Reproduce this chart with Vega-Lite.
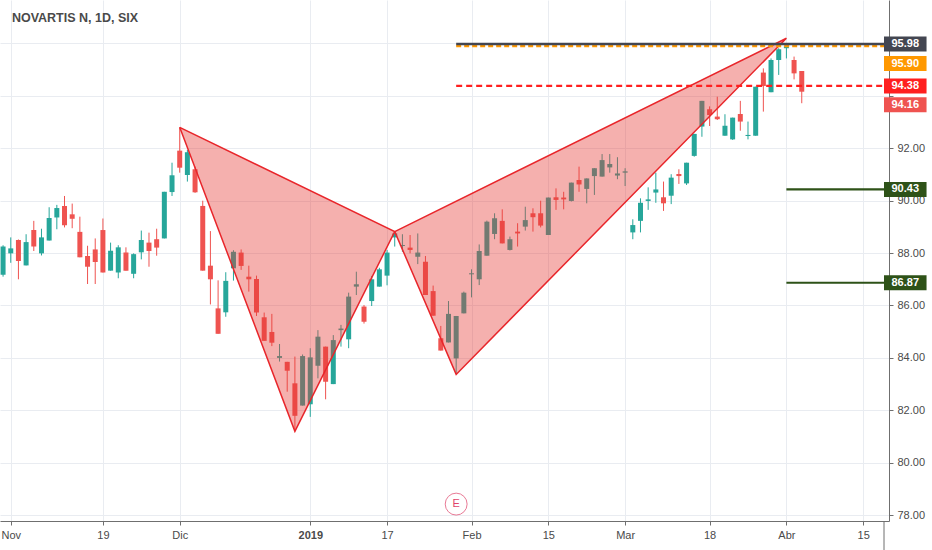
{
  "$schema": "https://vega.github.io/schema/vega-lite/v6.json",
  "width": 889,
  "height": 521,
  "autosize": "none",
  "padding": {"left": 0, "top": 0, "right": 43, "bottom": 29},
  "background": "#ffffff",
  "config": {
    "view": {"stroke": null},
    "font": "Liberation Sans"
  },
  "datasets": {
    "candles": [
      {"date": "2018-10-31", "t": -1, "open": 87.17, "high": 88.30, "low": 87.10, "close": 88.25},
      {"date": "2018-11-01", "t": 0, "open": 87.99, "high": 88.60, "low": 87.63, "close": 88.18},
      {"date": "2018-11-02", "t": 1, "open": 88.50, "high": 88.52, "low": 87.00, "close": 87.70},
      {"date": "2018-11-05", "t": 2, "open": 87.53, "high": 88.72, "low": 87.53, "close": 88.42},
      {"date": "2018-11-06", "t": 3, "open": 88.88, "high": 89.23, "low": 88.08, "close": 88.25},
      {"date": "2018-11-07", "t": 4, "open": 87.99, "high": 88.93, "low": 87.91, "close": 88.60},
      {"date": "2018-11-08", "t": 5, "open": 88.48, "high": 89.75, "low": 88.48, "close": 89.34},
      {"date": "2018-11-09", "t": 6, "open": 89.36, "high": 89.84, "low": 88.91, "close": 89.72},
      {"date": "2018-11-12", "t": 7, "open": 89.80, "high": 90.18, "low": 88.98, "close": 89.06},
      {"date": "2018-11-13", "t": 8, "open": 89.48, "high": 89.89, "low": 88.95, "close": 89.31},
      {"date": "2018-11-14", "t": 9, "open": 88.81, "high": 89.39, "low": 87.84, "close": 87.84},
      {"date": "2018-11-15", "t": 10, "open": 87.89, "high": 88.28, "low": 86.82, "close": 87.48},
      {"date": "2018-11-16", "t": 11, "open": 88.14, "high": 88.56, "low": 86.82, "close": 87.66},
      {"date": "2018-11-19", "t": 12, "open": 88.88, "high": 89.32, "low": 87.26, "close": 87.26},
      {"date": "2018-11-20", "t": 13, "open": 87.33, "high": 88.40, "low": 87.33, "close": 88.09},
      {"date": "2018-11-21", "t": 14, "open": 87.26, "high": 88.30, "low": 87.04, "close": 88.22},
      {"date": "2018-11-22", "t": 15, "open": 88.02, "high": 88.22, "low": 87.33, "close": 87.33},
      {"date": "2018-11-23", "t": 16, "open": 87.21, "high": 87.99, "low": 87.04, "close": 87.96},
      {"date": "2018-11-26", "t": 17, "open": 88.03, "high": 88.86, "low": 87.76, "close": 88.50},
      {"date": "2018-11-27", "t": 18, "open": 88.40, "high": 88.78, "low": 87.48, "close": 88.08},
      {"date": "2018-11-28", "t": 19, "open": 88.53, "high": 88.93, "low": 87.90, "close": 88.21},
      {"date": "2018-11-29", "t": 20, "open": 88.56, "high": 90.34, "low": 88.56, "close": 90.34},
      {"date": "2018-11-30", "t": 21, "open": 90.33, "high": 91.45, "low": 90.18, "close": 90.97},
      {"date": "2018-12-03", "t": 22, "open": 91.91, "high": 92.80, "low": 91.07, "close": 91.26},
      {"date": "2018-12-04", "t": 23, "open": 90.98, "high": 91.94, "low": 90.73, "close": 91.85},
      {"date": "2018-12-05", "t": 24, "open": 91.20, "high": 91.30, "low": 90.30, "close": 90.32},
      {"date": "2018-12-06", "t": 25, "open": 89.80, "high": 90.00, "low": 87.33, "close": 87.33},
      {"date": "2018-12-07", "t": 26, "open": 87.52, "high": 88.84, "low": 86.04, "close": 87.00},
      {"date": "2018-12-10", "t": 27, "open": 85.89, "high": 86.96, "low": 84.92, "close": 84.92},
      {"date": "2018-12-11", "t": 28, "open": 85.74, "high": 87.27, "low": 85.57, "close": 86.94},
      {"date": "2018-12-12", "t": 29, "open": 87.42, "high": 88.11, "low": 86.95, "close": 88.05},
      {"date": "2018-12-13", "t": 30, "open": 88.02, "high": 88.14, "low": 87.36, "close": 87.51},
      {"date": "2018-12-14", "t": 31, "open": 87.10, "high": 87.52, "low": 86.53, "close": 87.00},
      {"date": "2018-12-17", "t": 32, "open": 87.01, "high": 87.14, "low": 85.60, "close": 85.73},
      {"date": "2018-12-18", "t": 33, "open": 85.55, "high": 85.73, "low": 84.65, "close": 84.65},
      {"date": "2018-12-19", "t": 34, "open": 84.99, "high": 85.68, "low": 84.45, "close": 84.58},
      {"date": "2018-12-20", "t": 35, "open": 84.00, "high": 84.53, "low": 83.86, "close": 84.07},
      {"date": "2018-12-21", "t": 36, "open": 83.85, "high": 83.85, "low": 82.71, "close": 83.51},
      {"date": "2018-12-27", "t": 37, "open": 83.03, "high": 84.05, "low": 81.20, "close": 81.79},
      {"date": "2018-12-28", "t": 38, "open": 82.18, "high": 84.13, "low": 82.18, "close": 84.07},
      {"date": "2019-01-03", "t": 39, "open": 82.23, "high": 84.37, "low": 81.75, "close": 84.02},
      {"date": "2019-01-04", "t": 40, "open": 83.70, "high": 85.06, "low": 83.22, "close": 84.81},
      {"date": "2019-01-07", "t": 41, "open": 84.43, "high": 84.43, "low": 82.42, "close": 83.09},
      {"date": "2019-01-08", "t": 42, "open": 83.00, "high": 84.87, "low": 83.00, "close": 84.68},
      {"date": "2019-01-09", "t": 43, "open": 85.06, "high": 85.26, "low": 84.43, "close": 85.12},
      {"date": "2019-01-10", "t": 44, "open": 84.71, "high": 86.49, "low": 84.37, "close": 86.34},
      {"date": "2019-01-11", "t": 45, "open": 86.72, "high": 87.29, "low": 86.40, "close": 86.81},
      {"date": "2019-01-14", "t": 46, "open": 85.96, "high": 86.02, "low": 85.31, "close": 85.38},
      {"date": "2019-01-15", "t": 47, "open": 86.17, "high": 87.13, "low": 85.98, "close": 87.00},
      {"date": "2019-01-16", "t": 48, "open": 86.72, "high": 87.44, "low": 86.72, "close": 87.38},
      {"date": "2019-01-17", "t": 49, "open": 87.14, "high": 88.12, "low": 86.77, "close": 88.02},
      {"date": "2019-01-18", "t": 50, "open": 88.60, "high": 88.82, "low": 88.25, "close": 88.75},
      {"date": "2019-01-21", "t": 51, "open": 88.27, "high": 88.72, "low": 88.05, "close": 88.31},
      {"date": "2019-01-22", "t": 52, "open": 88.21, "high": 88.69, "low": 87.99, "close": 88.12},
      {"date": "2019-01-23", "t": 53, "open": 87.86, "high": 88.75, "low": 87.58, "close": 88.02},
      {"date": "2019-01-24", "t": 54, "open": 87.67, "high": 87.89, "low": 86.40, "close": 86.40},
      {"date": "2019-01-25", "t": 55, "open": 86.55, "high": 86.76, "low": 85.61, "close": 85.61},
      {"date": "2019-01-28", "t": 56, "open": 84.75, "high": 85.22, "low": 84.28, "close": 84.28},
      {"date": "2019-01-29", "t": 57, "open": 84.59, "high": 86.17, "low": 84.59, "close": 85.68},
      {"date": "2019-01-30", "t": 58, "open": 83.98, "high": 85.60, "low": 83.41, "close": 85.60},
      {"date": "2019-01-31", "t": 59, "open": 85.70, "high": 86.53, "low": 85.70, "close": 86.49},
      {"date": "2019-02-01", "t": 60, "open": 87.19, "high": 87.38, "low": 86.31, "close": 87.23},
      {"date": "2019-02-04", "t": 61, "open": 87.00, "high": 88.33, "low": 86.78, "close": 88.08},
      {"date": "2019-02-05", "t": 62, "open": 87.90, "high": 89.24, "low": 87.90, "close": 89.20},
      {"date": "2019-02-06", "t": 63, "open": 88.73, "high": 89.52, "low": 88.53, "close": 89.33},
      {"date": "2019-02-07", "t": 64, "open": 89.23, "high": 89.67, "low": 88.37, "close": 88.37},
      {"date": "2019-02-08", "t": 65, "open": 88.12, "high": 88.63, "low": 88.10, "close": 88.53},
      {"date": "2019-02-11", "t": 66, "open": 88.82, "high": 89.14, "low": 88.25, "close": 88.75},
      {"date": "2019-02-12", "t": 67, "open": 89.01, "high": 89.77, "low": 88.86, "close": 89.26},
      {"date": "2019-02-13", "t": 68, "open": 89.52, "high": 89.71, "low": 88.82, "close": 89.37},
      {"date": "2019-02-14", "t": 69, "open": 89.52, "high": 90.00, "low": 88.98, "close": 89.05},
      {"date": "2019-02-15", "t": 70, "open": 88.69, "high": 90.12, "low": 88.69, "close": 90.12},
      {"date": "2019-02-18", "t": 71, "open": 90.13, "high": 90.47, "low": 89.65, "close": 90.03},
      {"date": "2019-02-19", "t": 72, "open": 90.12, "high": 90.34, "low": 89.67, "close": 90.05},
      {"date": "2019-02-20", "t": 73, "open": 89.99, "high": 90.69, "low": 89.97, "close": 90.69},
      {"date": "2019-02-21", "t": 74, "open": 90.79, "high": 91.30, "low": 90.34, "close": 90.62},
      {"date": "2019-02-22", "t": 75, "open": 90.45, "high": 90.85, "low": 89.90, "close": 90.85},
      {"date": "2019-02-25", "t": 76, "open": 90.94, "high": 91.24, "low": 90.22, "close": 91.24},
      {"date": "2019-02-26", "t": 77, "open": 90.92, "high": 91.78, "low": 90.92, "close": 91.55},
      {"date": "2019-02-27", "t": 78, "open": 91.27, "high": 91.78, "low": 91.07, "close": 91.40},
      {"date": "2019-02-28", "t": 79, "open": 90.96, "high": 91.66, "low": 90.82, "close": 91.04},
      {"date": "2019-03-01", "t": 80, "open": 91.07, "high": 91.24, "low": 90.56, "close": 91.12},
      {"date": "2019-03-04", "t": 81, "open": 88.79, "high": 89.29, "low": 88.53, "close": 89.07},
      {"date": "2019-03-05", "t": 82, "open": 89.23, "high": 90.09, "low": 88.79, "close": 89.92},
      {"date": "2019-03-06", "t": 83, "open": 89.99, "high": 90.51, "low": 89.65, "close": 90.05},
      {"date": "2019-03-07", "t": 84, "open": 90.31, "high": 91.07, "low": 89.92, "close": 90.43},
      {"date": "2019-03-08", "t": 85, "open": 90.13, "high": 90.73, "low": 89.61, "close": 89.90},
      {"date": "2019-03-11", "t": 86, "open": 90.19, "high": 91.01, "low": 89.87, "close": 90.88},
      {"date": "2019-03-12", "t": 87, "open": 91.02, "high": 91.20, "low": 90.64, "close": 90.94},
      {"date": "2019-03-13", "t": 88, "open": 90.66, "high": 91.45, "low": 90.60, "close": 91.45},
      {"date": "2019-03-14", "t": 89, "open": 91.71, "high": 92.55, "low": 91.68, "close": 92.55},
      {"date": "2019-03-15", "t": 90, "open": 92.83, "high": 93.81, "low": 92.44, "close": 93.81},
      {"date": "2019-03-18", "t": 91, "open": 93.49, "high": 93.60, "low": 92.85, "close": 93.27},
      {"date": "2019-03-19", "t": 92, "open": 93.21, "high": 93.97, "low": 93.08, "close": 93.11},
      {"date": "2019-03-20", "t": 93, "open": 92.48, "high": 93.30, "low": 92.48, "close": 92.86},
      {"date": "2019-03-21", "t": 94, "open": 92.34, "high": 93.17, "low": 92.32, "close": 93.17},
      {"date": "2019-03-22", "t": 95, "open": 93.31, "high": 93.81, "low": 92.67, "close": 93.02},
      {"date": "2019-03-25", "t": 96, "open": 92.47, "high": 93.02, "low": 92.34, "close": 92.51},
      {"date": "2019-03-26", "t": 97, "open": 92.48, "high": 94.35, "low": 92.48, "close": 94.35},
      {"date": "2019-03-27", "t": 98, "open": 94.89, "high": 95.05, "low": 93.40, "close": 94.38},
      {"date": "2019-03-28", "t": 99, "open": 94.14, "high": 95.43, "low": 94.14, "close": 95.37},
      {"date": "2019-03-29", "t": 100, "open": 95.37, "high": 95.82, "low": 94.80, "close": 95.78},
      {"date": "2019-04-01", "t": 101, "open": 95.82, "high": 95.98, "low": 95.43, "close": 95.90},
      {"date": "2019-04-02", "t": 102, "open": 95.37, "high": 95.50, "low": 94.63, "close": 94.86},
      {"date": "2019-04-03", "t": 103, "open": 94.95, "high": 94.95, "low": 93.72, "close": 94.16}
    ],
    "pattern": [
      {"tri": "XAB", "seq": 1, "t": 22, "price": 92.80},
      {"tri": "XAB", "seq": 2, "t": 37, "price": 81.20},
      {"tri": "XAB", "seq": 3, "t": 50, "price": 88.82},
      {"tri": "XAB", "seq": 4, "t": 22, "price": 92.80},
      {"tri": "BCD", "seq": 1, "t": 50, "price": 88.82},
      {"tri": "BCD", "seq": 2, "t": 58, "price": 83.37},
      {"tri": "BCD", "seq": 3, "t": 101, "price": 96.20},
      {"tri": "BCD", "seq": 4, "t": 50, "price": 88.82}
    ],
    "levels": [
      {"kind": "prz", "price": 95.90, "t0": 58, "t1": 116},
      {"kind": "high", "price": 95.98, "t0": 58, "t1": 116},
      {"kind": "entry", "price": 94.38, "t0": 58, "t1": 116},
      {"kind": "tp1", "price": 90.43, "t0": 101, "t1": 116},
      {"kind": "tp2", "price": 86.87, "t0": 101, "t1": 116}
    ],
    "tags": [
      {"kind": "high", "price": 95.98},
      {"kind": "prz", "price": 95.90},
      {"kind": "entry", "price": 94.38},
      {"kind": "last", "price": 94.16},
      {"kind": "tp1", "price": 90.43},
      {"kind": "tp2", "price": 86.87}
    ],
    "events": [{"t": 58, "label": "E"}],
    "header": [{"label": "NOVARTIS N, 1D, SIX"}]
  },
  "layer": [
    {
      "data": {"name": "candles"},
      "mark": {"type": "rule", "strokeWidth": 1},
      "encoding": {
        "x": {
          "field": "t",
          "type": "quantitative",
          "title": null,
          "scale": {"domain": [-0.749, 113.71], "nice": false, "zero": false},
          "axis": {
            "values": [0, 12, 22, 39, 49, 60, 70, 80, 91, 101, 111],
            "labelExpr": "datum.value == 0 ? 'Nov' : datum.value == 12 ? '19' : datum.value == 22 ? 'Dic' : datum.value == 39 ? '2019' : datum.value == 49 ? '17' : datum.value == 60 ? 'Feb' : datum.value == 70 ? '15' : datum.value == 80 ? 'Mar' : datum.value == 91 ? '18' : datum.value == 101 ? 'Abr' : '15'",
            "labelFontWeight": {"condition": {"test": "datum.value == 39", "value": "bold"}, "value": "normal"},
            "grid": true,
            "gridColor": "#e9ecf1",
            "domainColor": "#6f6f6f",
            "tickColor": "#6f6f6f",
            "tickSize": 4,
            "labelColor": "#4a4a4a",
            "labelFontSize": 11,
            "labelPadding": 4,
            "labelFlush": false,
            "labelOverlap": false
          }
        },
        "y": {
          "field": "low",
          "type": "quantitative",
          "title": null,
          "scale": {"domain": [77.775, 97.66], "nice": false, "zero": false},
          "axis": {
            "orient": "right",
            "values": [78, 80, 82, 84, 86, 88, 90, 92, 94, 96],
            "format": ".2f",
            "labelExpr": "datum.value >= 94 ? '' : datum.label",
            "grid": true,
            "gridColor": "#e9ecf1",
            "domainColor": "#6f6f6f",
            "tickColor": "#6f6f6f",
            "tickSize": 4,
            "labelColor": "#4a4a4a",
            "labelFontSize": 11,
            "labelPadding": 4
          }
        },
        "y2": {"field": "high"},
        "color": {"condition": {"test": "datum.close >= datum.open", "value": "#26a69a"}, "value": "#ef5350"}
      }
    },
    {
      "data": {"name": "candles"},
      "mark": {"type": "bar", "width": 5},
      "encoding": {
        "x": {"field": "t", "type": "quantitative", "title": null},
        "y": {"field": "open", "type": "quantitative", "title": null},
        "y2": {"field": "close"},
        "color": {"condition": {"test": "datum.close >= datum.open", "value": "#26a69a"}, "value": "#ef5350"}
      }
    },
    {
      "data": {"name": "pattern"},
      "mark": {"type": "line", "stroke": "#e8262b", "strokeWidth": 1.5, "fill": "#e53935", "fillOpacity": 0.4},
      "encoding": {
        "x": {"field": "t", "type": "quantitative", "title": null},
        "y": {"field": "price", "type": "quantitative", "title": null},
        "detail": {"field": "tri"},
        "order": {"field": "seq"}
      }
    },
    {
      "data": {"name": "levels"},
      "mark": {"type": "rule", "clip": true},
      "encoding": {
        "x": {"field": "t0", "type": "quantitative", "title": null},
        "x2": {"field": "t1"},
        "y": {"field": "price", "type": "quantitative", "title": null},
        "color": {
          "field": "kind",
          "type": "nominal",
          "legend": null,
          "scale": {"domain": ["high", "prz", "entry", "last", "tp1", "tp2"], "range": ["#434651", "#ff9800", "#ff1f1f", "#ef5350", "#2e5218", "#2e5218"]}
        },
        "strokeDash": {
          "field": "kind",
          "type": "nominal",
          "legend": null,
          "scale": {"domain": ["high", "prz", "entry", "tp1", "tp2"], "range": [[1, 0], [5, 3], [6, 4], [1, 0], [1, 0]]}
        },
        "strokeWidth": {
          "field": "kind",
          "type": "nominal",
          "legend": null,
          "scale": {"domain": ["high", "prz", "entry", "tp1", "tp2"], "range": [2.5, 2, 1.5, 3, 3]}
        }
      }
    },
    {
      "data": {"name": "events"},
      "mark": {"type": "point", "shape": "circle", "size": 480, "filled": true, "fill": "#ffffff", "stroke": "#e0436a", "strokeWidth": 1},
      "encoding": {
        "x": {"field": "t", "type": "quantitative", "title": null},
        "y": {"datum": 78.42}
      }
    },
    {
      "data": {"name": "events"},
      "mark": {"type": "text", "color": "#e0436a", "fontSize": 11, "align": "center", "baseline": "middle"},
      "encoding": {
        "x": {"field": "t", "type": "quantitative", "title": null},
        "y": {"datum": 78.42},
        "text": {"field": "label"}
      }
    },
    {
      "data": {"name": "tags"},
      "transform": [{"filter": "datum.kind != 'prz' && datum.kind != 'last'"}],
      "mark": {"type": "rect", "yOffset": -7.5, "y2Offset": 7.5},
      "encoding": {
        "x": {"datum": 113.71},
        "x2": {"datum": 119.25},
        "y": {"field": "price", "type": "quantitative", "title": null},
        "y2": {"field": "price"},
        "color": {"field": "kind", "type": "nominal", "legend": null}
      }
    },
    {
      "data": {"name": "tags"},
      "transform": [{"filter": "datum.kind == 'prz'"}],
      "mark": {"type": "rect", "yOffset": 10, "y2Offset": 25},
      "encoding": {
        "x": {"datum": 113.71},
        "x2": {"datum": 119.25},
        "y": {"field": "price", "type": "quantitative", "title": null},
        "y2": {"field": "price"},
        "color": {"field": "kind", "type": "nominal", "legend": null}
      }
    },
    {
      "data": {"name": "tags"},
      "transform": [{"filter": "datum.kind == 'last'"}],
      "mark": {"type": "rect", "yOffset": 5.5, "y2Offset": 20.5},
      "encoding": {
        "x": {"datum": 113.71},
        "x2": {"datum": 119.25},
        "y": {"field": "price", "type": "quantitative", "title": null},
        "y2": {"field": "price"},
        "color": {"field": "kind", "type": "nominal", "legend": null}
      }
    },
    {
      "data": {"name": "tags"},
      "transform": [{"filter": "datum.kind != 'prz' && datum.kind != 'last'"}],
      "mark": {"type": "text", "color": "#ffffff", "fontWeight": "bold", "fontSize": 11, "align": "center", "baseline": "middle"},
      "encoding": {
        "x": {"datum": 116.48},
        "y": {"field": "price", "type": "quantitative", "title": null},
        "text": {"field": "price", "format": ".2f"}
      }
    },
    {
      "data": {"name": "tags"},
      "transform": [{"filter": "datum.kind == 'prz'"}],
      "mark": {"type": "text", "color": "#ffffff", "fontWeight": "bold", "fontSize": 11, "align": "center", "baseline": "middle", "yOffset": 17.5},
      "encoding": {
        "x": {"datum": 116.48},
        "y": {"field": "price", "type": "quantitative", "title": null},
        "text": {"field": "price", "format": ".2f"}
      }
    },
    {
      "data": {"name": "tags"},
      "transform": [{"filter": "datum.kind == 'last'"}],
      "mark": {"type": "text", "color": "#ffffff", "fontWeight": "bold", "fontSize": 11, "align": "center", "baseline": "middle", "yOffset": 13},
      "encoding": {
        "x": {"datum": 116.48},
        "y": {"field": "price", "type": "quantitative", "title": null},
        "text": {"field": "price", "format": ".2f"}
      }
    },
    {
      "data": {"name": "header"},
      "mark": {"type": "text", "fontSize": 12.5, "fontWeight": "bold", "color": "#4a4a4a", "align": "left", "baseline": "middle"},
      "encoding": {
        "x": {"datum": 0.15},
        "y": {"datum": 96.97},
        "text": {"field": "label"}
      }
    },
    {
      "data": {"values": [{}]},
      "mark": {"type": "rule", "color": "#6f6f6f", "strokeWidth": 1},
      "encoding": {
        "x": {"datum": 113.71},
        "y": {"datum": 77.775},
        "y2": {"datum": 76.6}
      }
    }
  ]
}
